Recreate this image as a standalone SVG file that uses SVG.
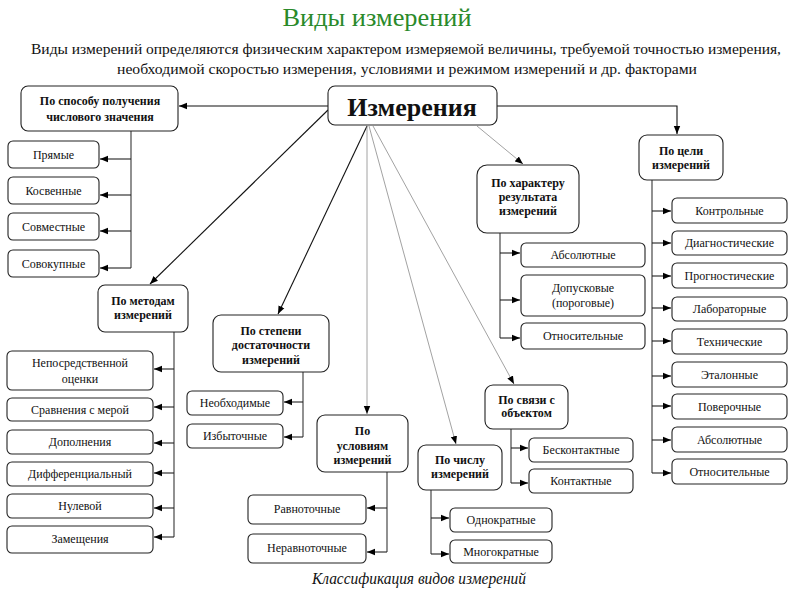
<svg xmlns="http://www.w3.org/2000/svg" width="800" height="600" viewBox="0 0 800 600" font-family="'Times New Roman', 'Liberation Serif', Tinos, serif">
<style>
text{font-family:'Times New Roman','Liberation Serif',Tinos,'DejaVu Serif',serif;fill:#111;text-anchor:middle}
.box{fill:#fff;stroke:#222;stroke-width:1.1}
.h{font-weight:bold;font-size:12px}
.i{font-size:12px}
.tree{fill:none;stroke:#555;stroke-width:1.3}
.arr{fill:none;stroke:#222;stroke-width:1.1;marker-end:url(#ah)}
.main{fill:none;stroke:#111;stroke-width:1.1;marker-end:url(#ah)}
.thin{fill:none;stroke:#8a8a8a;stroke-width:0.8;marker-end:url(#ah)}
</style>
<defs>
<marker id="ah" viewBox="0 0 10 10" refX="10" refY="5" markerWidth="8" markerHeight="8" markerUnits="userSpaceOnUse" orient="auto"><path d="M0,1 L10,5 L0,9 z" fill="#000"/></marker>
</defs>
<rect width="800" height="600" fill="#fff"/>
<text x="377" y="26" font-size="26" style="fill:#2a8a2a" textLength="189" lengthAdjust="spacingAndGlyphs">Виды измерений</text>
<text x="406" y="54" font-size="14" textLength="750" lengthAdjust="spacingAndGlyphs">Виды измерений определяются физическим характером измеряемой величины, требуемой точностью измерения,</text>
<text x="407" y="74" font-size="14" textLength="580" lengthAdjust="spacingAndGlyphs">необходимой скоростью измерения, условиями и режимом измерений и др. факторами</text>

<g id="connectors">
<path class="main" d="M328,106 H179"/>
<path class="main" d="M328,110 L150,284"/>
<path class="main" d="M367,126 L278,314"/>
<path class="thin" d="M367,126 V414"/>
<path class="thin" d="M369,126 L456,444"/>
<path class="thin" d="M373,126 L514,384"/>
<path class="thin" d="M477,126 L523,164"/>
<path class="main" d="M497,106 H677 V134"/>
<path class="tree" d="M131,131 V268"/>
<path class="arr" d="M131,159 H100"/><path class="arr" d="M131,195 H100"/><path class="arr" d="M131,231 H100"/><path class="arr" d="M131,268 H100"/>
<path class="tree" d="M174,332 V537"/>
<path class="arr" d="M174,369 H154"/><path class="arr" d="M174,407 H154"/><path class="arr" d="M174,443 H154"/><path class="arr" d="M174,473 H154"/><path class="arr" d="M174,508 H154"/><path class="arr" d="M174,537 H154"/>
<path class="tree" d="M303,372 V437"/>
<path class="arr" d="M303,402 H284"/><path class="arr" d="M303,437 H284"/>
<path class="tree" d="M387,472 V552"/>
<path class="arr" d="M387,508 H367"/><path class="arr" d="M387,552 H367"/>
<path class="tree" d="M431,490 V554"/>
<path class="arr" d="M431,518 H449"/><path class="arr" d="M431,554 H449"/>
<path class="tree" d="M500,233 V338"/>
<path class="arr" d="M500,253 H520"/><path class="arr" d="M500,300 H520"/><path class="arr" d="M500,338 H520"/>
<path class="tree" d="M511,429 V483"/>
<path class="arr" d="M511,448 H528"/><path class="arr" d="M511,483 H528"/>
<path class="tree" d="M652,180 V473"/>
<path class="arr" d="M652,211 H671"/><path class="arr" d="M652,243 H671"/><path class="arr" d="M652,276 H671"/><path class="arr" d="M652,308 H671"/><path class="arr" d="M652,341 H671"/><path class="arr" d="M652,376 H671"/><path class="arr" d="M652,406 H671"/><path class="arr" d="M652,440 H671"/><path class="arr" d="M652,473 H671"/>
</g>

<g id="n_main"><rect class="box" x="328" y="86" width="169" height="39" rx="7"/><text x="412" y="116" font-size="26" font-weight="bold">Измерения</text></g>

<g id="n_sposob"><rect class="box" x="21" y="86" width="157" height="45" rx="7"/><text class="h" x="100" y="105">По способу получения</text><text class="h" x="100" y="121">числового значения</text></g>
<g id="n_pryamye"><rect class="box" x="8" y="141" width="91" height="27" rx="5"/><text class="i" x="53.5" y="159">Прямые</text></g>
<g id="n_kosv"><rect class="box" x="8" y="177" width="91" height="27" rx="5"/><text class="i" x="53.5" y="195">Косвенные</text></g>
<g id="n_sovm"><rect class="box" x="8" y="213" width="91" height="27" rx="5"/><text class="i" x="53.5" y="231">Совместные</text></g>
<g id="n_sovok"><rect class="box" x="8" y="250" width="91" height="27" rx="5"/><text class="i" x="53.5" y="268">Совокупные</text></g>

<g id="n_metod"><rect class="box" x="98" y="285" width="90" height="47" rx="7"/><text class="h" x="143" y="305">По методам</text><text class="h" x="143" y="319">измерений</text></g>
<g id="n_neposr"><rect class="box" x="7" y="351" width="146" height="39" rx="5"/><text class="i" x="80" y="367">Непосредственной</text><text class="i" x="80" y="383">оценки</text></g>
<g id="n_sravn"><rect class="box" x="7" y="398" width="146" height="23" rx="5"/><text class="i" x="80" y="414">Сравнения с мерой</text></g>
<g id="n_dopoln"><rect class="box" x="7" y="430" width="146" height="24" rx="5"/><text class="i" x="80" y="446">Дополнения</text></g>
<g id="n_diff"><rect class="box" x="7" y="462" width="146" height="24" rx="5"/><text class="i" x="80" y="478">Дифференциальный</text></g>
<g id="n_nul"><rect class="box" x="7" y="494" width="146" height="24" rx="5"/><text class="i" x="80" y="510">Нулевой</text></g>
<g id="n_zamesch"><rect class="box" x="7" y="526" width="146" height="27" rx="5"/><text class="i" x="80" y="543">Замещения</text></g>

<g id="n_stepen"><rect class="box" x="213" y="315" width="116" height="57" rx="8"/><text class="h" x="271" y="335">По степени</text><text class="h" x="271" y="349">достаточности</text><text class="h" x="271" y="364">измерений</text></g>
<g id="n_neobh"><rect class="box" x="187" y="391" width="96" height="24" rx="5"/><text class="i" x="235" y="407">Необходимые</text></g>
<g id="n_izb"><rect class="box" x="187" y="424" width="96" height="24" rx="5"/><text class="i" x="235" y="440">Избыточные</text></g>

<g id="n_uslov"><rect class="box" x="317" y="415" width="91" height="57" rx="8"/><text class="h" x="362.5" y="435">По</text><text class="h" x="362.5" y="450">условиям</text><text class="h" x="362.5" y="464">измерений</text></g>
<g id="n_ravn"><rect class="box" x="248" y="495" width="118" height="29" rx="5"/><text class="i" x="307" y="513">Равноточные</text></g>
<g id="n_neravn"><rect class="box" x="248" y="534" width="118" height="29" rx="5"/><text class="i" x="307" y="552">Неравноточные</text></g>

<g id="n_chislo"><rect class="box" x="418" y="445" width="84" height="45" rx="8"/><text class="h" x="460" y="464">По числу</text><text class="h" x="460" y="478">измерений</text></g>
<g id="n_odnokr"><rect class="box" x="450" y="508" width="102" height="24" rx="5"/><text class="i" x="501" y="524">Однократные</text></g>
<g id="n_mnogokr"><rect class="box" x="450" y="540" width="102" height="23" rx="5"/><text class="i" x="501" y="556">Многократные</text></g>

<g id="n_harakter"><rect class="box" x="477" y="165" width="102" height="68" rx="10"/><text class="h" x="528" y="187">По характеру</text><text class="h" x="528" y="201">результата</text><text class="h" x="528" y="215">измерений</text></g>
<g id="n_abs1"><rect class="box" x="521" y="243" width="124" height="24" rx="5"/><text class="i" x="583" y="259">Абсолютные</text></g>
<g id="n_dopusk"><rect class="box" x="521" y="275" width="124" height="41" rx="5"/><text class="i" x="583" y="292">Допусковые</text><text class="i" x="583" y="307">(пороговые)</text></g>
<g id="n_otn1"><rect class="box" x="521" y="323" width="124" height="26" rx="5"/><text class="i" x="583" y="340">Относительные</text></g>

<g id="n_svyaz"><rect class="box" x="485" y="385" width="83" height="44" rx="8"/><text class="h" x="526.5" y="404">По связи с</text><text class="h" x="526.5" y="417">объектом</text></g>
<g id="n_beskont"><rect class="box" x="529" y="438" width="104" height="24" rx="5"/><text class="i" x="581" y="454">Бесконтактные</text></g>
<g id="n_kont"><rect class="box" x="529" y="469" width="104" height="24" rx="5"/><text class="i" x="581" y="485">Контактные</text></g>

<g id="n_cel"><rect class="box" x="639" y="135" width="84" height="45" rx="8"/><text class="h" x="681" y="155">По цели</text><text class="h" x="681" y="169">измерений</text></g>
<g id="n_kontrol"><rect class="box" x="672" y="198" width="115" height="25" rx="5"/><text class="i" x="729.5" y="215">Контрольные</text></g>
<g id="n_diagn"><rect class="box" x="672" y="231" width="115" height="24" rx="5"/><text class="i" x="729.5" y="247">Диагностические</text></g>
<g id="n_progn"><rect class="box" x="672" y="263" width="115" height="25" rx="5"/><text class="i" x="729.5" y="280">Прогностические</text></g>
<g id="n_labor"><rect class="box" x="672" y="297" width="115" height="24" rx="5"/><text class="i" x="729.5" y="313">Лабораторные</text></g>
<g id="n_tehn"><rect class="box" x="672" y="329" width="115" height="25" rx="5"/><text class="i" x="729.5" y="346">Технические</text></g>
<g id="n_etal"><rect class="box" x="672" y="362" width="115" height="25" rx="5"/><text class="i" x="729.5" y="379">Эталонные</text></g>
<g id="n_pover"><rect class="box" x="672" y="394" width="115" height="25" rx="5"/><text class="i" x="729.5" y="411">Поверочные</text></g>
<g id="n_abs2"><rect class="box" x="672" y="427" width="115" height="25" rx="5"/><text class="i" x="729.5" y="444">Абсолютные</text></g>
<g id="n_otn2"><rect class="box" x="672" y="459" width="115" height="25" rx="5"/><text class="i" x="729.5" y="476">Относительные</text></g>

<text x="419" y="584" font-size="16" font-style="italic" textLength="214" lengthAdjust="spacingAndGlyphs">Классификация видов измерений</text>
</svg>
